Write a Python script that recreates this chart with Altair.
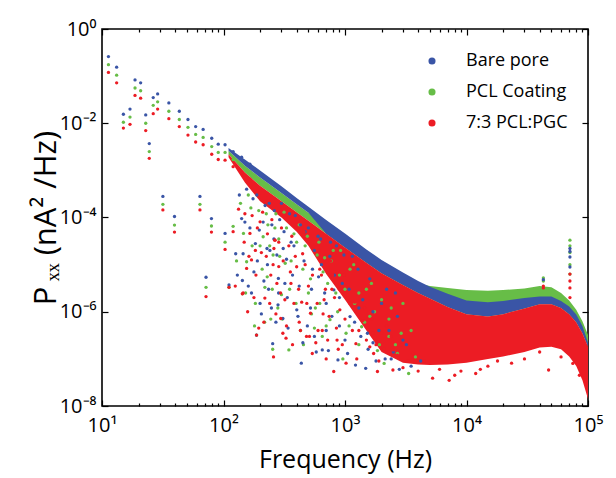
import altair as alt
import pandas as pd

# ---------------- data ----------------
series_names = ["Bare pore", "PCL Coating", "7:3 PCL:PGC"]
series_colors = ["#3a55a6", "#67bd47", "#ec1c24"]

x_tick_values = [10, 100, 1000, 10000, 100000]
x_tick_labels = ["10\u00b9", "10\u00b2", "10\u00b3", "10\u2074", "10\u2075"]
x_minor_values = [20, 30, 40, 50, 60, 70, 80, 90,
                  200, 300, 400, 500, 600, 700, 800, 900,
                  2000, 3000, 4000, 5000, 6000, 7000, 8000, 9000,
                  20000, 30000, 40000, 50000, 60000, 70000, 80000, 90000]
y_tick_values = [1, 0.01, 1e-4, 1e-6, 1e-8]
y_tick_labels = ["10\u2070", "10\u207b\u00b2", "10\u207b\u2074", "10\u207b\u2076", "10\u207b\u2078"]

# dense part of each spectrum (upper / lower edge of the solid cloud)
band_freq = [110, 150, 200, 300, 400, 500, 700, 1000, 1500, 2000, 3000, 4000, 5000, 7000,
             10000, 15000, 20000, 30000, 40000, 50000, 60000, 70000, 80000, 90000, 100000]
blue_top = [3.0e-3, 1.7e-3, 1.0e-3, 4.6e-4, 2.6e-4, 1.7e-4, 8.9e-5, 4.6e-5, 2.1e-5, 1.26e-5, 6.8e-6, 4.5e-6,
            3.4e-6, 2.4e-6, 1.74e-6, 1.6e-6, 1.7e-6, 1.95e-6, 2.1e-6, 2.1e-6, 1.7e-6, 1.3e-6, 8.7e-7, 5.0e-7,
            2.2e-7]
blue_bottom = [2.6e-3, 1.25e-3, 7.1e-4, 3.3e-4, 1.9e-4, 1.26e-4, 4.5e-5, 2.3e-5, 1.1e-5, 6.6e-6, 3.7e-6, 2.5e-6,
               1.9e-6, 1.26e-6, 8.9e-7, 7.9e-7, 8.9e-7, 1.17e-6, 1.45e-6, 1.45e-6, 1.2e-6, 8.9e-7, 6.0e-7,
               3.5e-7, 1.8e-7]
green_top = [2.6e-3, 1.25e-3, 7.1e-4, 3.3e-4, 1.9e-4, 1.26e-4, 6.6e-5, 3.4e-5, 1.58e-5, 9.5e-6, 5.2e-6, 4.0e-6,
             3.5e-6, 3.2e-6, 2.9e-6, 2.8e-6, 2.9e-6, 3.1e-6, 3.5e-6, 3.3e-6, 2.5e-6, 1.74e-6, 1.1e-6, 6.3e-7,
             3.2e-7]
red_top = [2.2e-3, 9.0e-4, 4.7e-4, 2.2e-4, 1.3e-4, 8.5e-5, 4.5e-5, 2.3e-5, 1.1e-5, 6.6e-6, 3.7e-6, 2.5e-6,
           1.9e-6, 1.26e-6, 8.9e-7, 7.9e-7, 8.9e-7, 1.17e-6, 1.45e-6, 1.45e-6, 1.2e-6, 8.9e-7, 6.0e-7, 3.5e-7,
           1.8e-7]
red_bottom = [1.9e-3, 5.5e-4, 2.2e-4, 1.0e-4, 5.0e-5, 2.5e-5, 6.3e-6, 1.8e-6, 4.0e-7, 1.4e-7, 8.3e-8, 7.6e-8,
              7.4e-8, 7.6e-8, 8.3e-8, 1.0e-7, 1.12e-7, 1.4e-7, 1.74e-7, 1.8e-7, 1.6e-7, 1.12e-7, 7.1e-8, 3.5e-8,
              1.4e-8]

# individual (sparse) periodogram points
blue_freq = [11.3, 13.2, 15.0, 17.0, 18.7, 20.8, 22.9, 24.5, 26.4, 28.7, 31.7, 35.5, 39.5, 43.3, 51, 59, 64, 68,
             71.8, 79.6, 80, 90.5, 103, 103, 111, 120, 126, 141, 141, 143, 145, 165, 183, 187, 197, 241, 254,
             283, 284, 308, 320, 281, 401, 437, 606, 650, 810, 875, 1100, 1220, 1480, 1530, 2140,
             360, 450, 520, 560, 700, 750, 900, 1000, 1300, 1700, 2500, 2800, 3500, 230, 260, 330, 170, 215,
             130, 135, 150, 160, 175, 190, 205, 220, 235, 250, 270, 290, 310, 340, 370, 390, 420, 470, 490,
             540, 580, 630, 680, 730, 780, 850, 950, 1050, 1150, 1350, 1600, 1800, 2000, 2300, 2600, 3200, 4200,
             155, 165, 178, 188, 200, 212, 228, 238, 248, 262, 275, 300, 315, 335, 350, 380, 410, 430, 460,
             500, 530, 560, 600, 640, 700, 760, 820, 900, 980, 1080, 1200, 1280, 1400, 1550, 1700, 1900,
             2200, 2400, 2700, 3000,
             71000, 71000, 71000, 71000, 42900]
blue_val = [2.6e-1, 1.55e-1, 1.55e-2, 2.0e-2, 8.3e-2, 7.2e-2, 1.5e-2, 3.7e-3, 3.5e-2, 4.2e-2, 2.8e-4, 2.7e-2,
            1.05e-4, 1.8e-2, 1.2e-2, 8.5e-3, 2.8e-4, 7.4e-3, 5.4e-6, 9.5e-5, 4.8e-3, 3.6e-3, 3.5e-3, 4.6e-5,
            3.7e-6, 2.5e-3, 1.7e-5, 1.9e-3, 9.5e-5, 4.6e-6, 1.7e-5, 1.35e-3, 2.8e-5, 3.2e-7, 5.4e-5, 2.0e-5,
            2.1e-7, 5.1e-6, 2.5e-6, 7.2e-7, 4.0e-6, 1.4e-6, 1.1e-6, 8.1e-8, 5.5e-6, 1.55e-7, 2.9e-6, 9.5e-8,
            7.9e-7, 7.4e-8, 6.3e-8, 3.5e-7, 1.0e-7,
            3.0e-5, 2.2e-7, 1.2e-6, 2.0e-5, 4.0e-7, 1.5e-5, 2.0e-6, 2.5e-7, 1.2e-6, 2.2e-7, 1.4e-7, 6.0e-8,
            7.0e-8, 1.0e-5, 3.5e-5, 1.3e-5, 2.5e-6, 4.5e-6,
            6.0e-6, 3.0e-4, 8.0e-5, 3.5e-6, 2.5e-4, 1.2e-5, 9.0e-7, 1.8e-4, 3.0e-6, 7.0e-5, 6.0e-7, 9.0e-5,
            2.2e-5, 4.5e-7, 6.0e-6, 1.1e-4, 3.5e-6, 5.0e-5, 5.0e-7, 8.0e-6, 1.4e-7, 3.5e-5, 2.5e-6, 1.5e-7,
            8.0e-7, 2.5e-5, 4.0e-6, 1.3e-7, 1.5e-5, 3.0e-7, 5.0e-6, 9.0e-8, 1.5e-6, 4.0e-7, 2.5e-6, 2.0e-7,
            9.0e-8,
            4.0e-4, 6.0e-5, 7.0e-6, 3.0e-4, 1.5e-6, 8.0e-5, 2.2e-5, 2.0e-4, 1.2e-6, 1.4e-4, 1.6e-5, 2.0e-4,
            5.0e-5, 2.0e-6, 1.2e-4, 2.5e-5, 8.0e-7, 7.0e-5, 1.2e-5, 6.0e-5, 3.0e-6, 3.0e-7, 4.0e-5, 1.0e-5,
            1.5e-6, 3.0e-5, 6.0e-6, 5.0e-7, 1.6e-5, 3.0e-6, 6.0e-7, 8.0e-6, 1.8e-6, 1.6e-7, 1.0e-6, 4.0e-7,
            3.0e-6, 1.0e-7, 8.0e-7, 2.5e-7,
            2.2e-5, 1.9e-5, 1.45e-5, 8.9e-6, 4.8e-6]

green_freq = [11.3, 13.2, 15.0, 17.0, 18.7, 20.8, 22.9, 24.5, 26.4, 28.7, 31.7, 35.5, 39.5, 43.3, 51, 59, 64, 68,
              71.8, 79.6, 80, 90.5, 103, 103, 111, 120, 120, 141, 143, 146, 155, 165, 187, 212, 219, 229, 254,
              256, 300, 322, 345, 500, 560, 752, 1020, 1370, 1920, 3340,
              400, 450, 620, 680, 900, 1200, 1600, 2300, 2700, 280, 240,
              128, 138, 152, 168, 180, 200, 225, 245, 265, 290, 315, 350, 380, 430, 470, 530, 590, 650, 720,
              800, 870, 960, 1100, 1300, 1500, 1750, 2100, 2400, 2900, 3800,
              160, 172, 183, 195, 208, 218, 232, 252, 270, 285, 305, 330, 360, 395, 420, 455, 490, 520, 570,
              610, 660, 700, 770, 840, 920, 1000, 1080, 1180, 1300, 1450, 1650, 1850, 2000, 2300, 2600, 3000,
              3500,
              71000, 71000, 71000, 71000, 71000, 42900, 42900]
green_val = [1.75e-1, 1.05e-1, 1.05e-2, 1.35e-2, 5.6e-2, 4.9e-2, 1.0e-2, 2.5e-3, 2.4e-2, 2.85e-2, 1.9e-4, 1.8e-2,
             6.9e-5, 1.2e-2, 8.2e-3, 5.8e-3, 1.9e-4, 5.0e-3, 3.3e-6, 6.6e-5, 3.2e-3, 2.4e-3, 2.4e-3, 3.0e-5,
             3.3e-6, 1.7e-3, 6.5e-5, 1.3e-3, 2.4e-6, 4.6e-5, 1.15e-5, 9.2e-4, 3.2e-7, 3.9e-5, 3.3e-6, 5.5e-6,
             1.6e-7, 1.6e-5, 2.3e-6, 1.07e-5, 1.55e-7, 2.5e-6, 4.5e-7, 6.8e-7, 3.5e-7, 4.8e-7, 2.0e-7, 4.9e-8,
             3.0e-5, 8.0e-6, 1.5e-6, 1.4e-5, 6.0e-6, 1.5e-6, 8.0e-7, 3.0e-7, 1.3e-7, 1.2e-6, 2.5e-5,
             1.2e-5, 2.0e-4, 2.5e-6, 1.6e-4, 5.0e-7, 2.5e-5, 1.2e-4, 7.0e-7, 6.0e-5, 1.5e-5, 1.3e-4, 3.0e-6,
             4.5e-5, 4.0e-7, 2.5e-5, 9.0e-7, 1.6e-5, 3.0e-7, 4.0e-6, 2.0e-5, 1.0e-6, 1.0e-7, 8.0e-6, 2.0e-7,
             3.0e-6, 1.0e-6, 8.0e-8, 1.2e-6, 3.5e-7, 1.1e-7,
             3.0e-4, 2.5e-5, 1.5e-6, 1.4e-4, 8.0e-6, 6.0e-7, 7.0e-5, 3.0e-6, 1.2e-4, 3.5e-5, 7.0e-7, 6.0e-5,
             1.2e-5, 1.5e-6, 7.0e-5, 2.0e-7, 4.0e-5, 5.0e-6, 1.2e-6, 3.0e-5, 7.0e-6, 5.0e-7, 1.2e-5, 2.5e-6,
             2.0e-5, 3.0e-6, 5.0e-7, 1.0e-5, 2.5e-6, 6.0e-7, 4.0e-6, 1.5e-7, 1.8e-6, 7.0e-7, 2.0e-7, 1.5e-6,
             4.0e-7,
             3.3e-5, 2.5e-5, 1.8e-5, 1.0e-5, 6.3e-6, 5.2e-6, 4.5e-6]

red_freq = [11.3, 13.2, 15.0, 17.0, 18.7, 20.8, 22.9, 24.5, 26.4, 28.7, 31.7, 35.5, 39.5, 43.3, 51, 59, 64, 68,
            71.8, 79.6, 80, 90.5, 103, 103, 111, 120, 120, 141, 143, 145, 155, 165, 165, 170, 183, 187, 200,
            219, 256, 258, 264, 266, 285, 296, 308, 327, 359, 448, 482, 520, 538, 673, 808, 907, 1020, 1230,
            1720, 1850, 2480, 2500, 5260, 7200, 11900, 23500, 47400,
            380, 420, 600, 640, 720, 780, 850, 950, 1100, 1400, 1600, 2000, 3000, 4000, 6000, 9000, 15000,
            30000, 60000, 85000,
            125, 133, 148, 158, 172, 185, 195, 210, 225, 240, 250, 275, 300, 320, 345, 370, 400, 440, 460,
            500, 550, 575, 620, 660, 700, 760, 820, 880, 980, 1150, 1250, 1450, 1700, 1900, 2200, 2700, 3300,
            150, 162, 178, 190, 205, 215, 230, 245, 260, 270, 285, 295, 310, 330, 355, 365, 390, 415, 430,
            470, 485, 510, 540, 590, 610, 650, 690, 740, 790, 860, 900, 1000, 1050, 1200, 1300, 1500, 1650,
            1800, 2100, 2400, 2900, 3600, 4500, 8000, 13000, 18000, 40000, 75000,
            71000, 71000, 71000, 71000, 42900, 42900]
red_val = [1.2e-1, 7.2e-2, 7.9e-3, 9.5e-3, 3.9e-2, 3.4e-2, 7.0e-3, 1.8e-3, 1.6e-2, 2.0e-2, 1.45e-4, 1.25e-2,
           4.9e-5, 8.5e-3, 5.6e-3, 4.0e-3, 1.45e-4, 3.5e-3, 2.1e-6, 4.9e-5, 2.2e-3, 1.7e-3, 1.65e-3, 2.1e-5,
           3.3e-6, 5.0e-5, 1.2e-3, 9.0e-4, 2.4e-6, 2.5e-6, 8.3e-6, 4.6e-5, 6.5e-4, 1.26e-5, 2.0e-5, 3.2e-7,
           8.1e-5, 1.95e-6, 1.0e-5, 1.1e-7, 3.3e-5, 3.3e-5, 9.1e-6, 7.2e-7, 3.5e-7, 2.75e-7, 4.0e-6, 1.7e-5,
           3.0e-7, 9.3e-7, 1.3e-7, 1.8e-6, 5.4e-8, 1.1e-6, 8.1e-8, 2.1e-7, 1.3e-7, 5.4e-8, 5.8e-8, 1.55e-7,
           3.9e-8, 3.5e-8, 4.9e-8, 8.1e-8, 5.8e-8,
           1.5e-6, 6.0e-7, 4.0e-7, 6.0e-6, 2.5e-7, 3.0e-6, 4.5e-7, 2.0e-7, 1.5e-6, 6.5e-7, 1.8e-7, 3.5e-7,
           6.5e-8, 5.5e-8, 6.0e-8, 5.5e-8, 7.0e-8, 1.0e-7, 1.1e-7, 4.5e-8,
           3.5e-6, 1.5e-4, 3.0e-5, 1.0e-6, 1.1e-4, 6.0e-6, 4.5e-7, 1.3e-4, 1.5e-5, 1.5e-6, 9.0e-5, 4.0e-6,
           6.0e-5, 1.8e-6, 2.5e-5, 2.0e-7, 9.0e-6, 1.6e-6, 5.0e-5, 3.5e-6, 2.5e-5, 2.2e-7, 8.0e-6, 9.0e-7,
           1.0e-7, 1.2e-5, 2.0e-6, 1.6e-7, 6.0e-6, 4.0e-7, 1.0e-7, 1.2e-6, 3.5e-7, 9.0e-8, 5.0e-7, 1.2e-7,
           9.0e-8,
           1.2e-4, 1.5e-5, 2.0e-6, 6.0e-5, 1.8e-5, 6.0e-7, 4.5e-5, 6.0e-6, 2.2e-5, 9.0e-7, 3.0e-5, 2.5e-6,
           1.2e-5, 5.0e-7, 7.0e-6, 4.0e-5, 1.5e-5, 3.0e-6, 4.0e-7, 1.0e-5, 1.5e-6, 3.0e-7, 6.0e-6, 1.5e-6,
           2.0e-5, 4.0e-7, 3.0e-6, 8.0e-7, 6.0e-6, 2.5e-7, 3.0e-6, 7.0e-7, 2.0e-6, 1.6e-6, 4.0e-7, 2.5e-7,
           7.0e-7, 2.0e-7, 1.6e-7, 3.0e-7, 2.0e-7, 1.3e-7, 9.0e-8, 4.5e-8, 6.0e-8, 9.0e-8, 1.4e-7, 8.0e-8,
           6.3e-6, 4.5e-6, 3.2e-6, 2.0e-6, 3.5e-6, 3.2e-6]

# ---------------- tables ----------------
green_band = pd.DataFrame({"freq": band_freq, "top": green_top, "bottom": red_top})
blue_band = pd.DataFrame({"freq": band_freq, "top": blue_top, "bottom": blue_bottom})
red_band = pd.DataFrame({"freq": band_freq, "top": red_top, "bottom": red_bottom})

points = pd.concat([
    pd.DataFrame({"freq": green_freq, "val": green_val, "series": series_names[1]}),
    pd.DataFrame({"freq": blue_freq, "val": blue_val, "series": series_names[0]}),
    pd.DataFrame({"freq": red_freq, "val": red_val, "series": series_names[2]}),
], ignore_index=True)

FONT = "Open Sans"
xs = alt.Scale(type="log", domain=[10, 100000], nice=False)
ys = alt.Scale(type="log", domain=[1e-8, 1], nice=False)


def js_list(items, quote=False):
    if quote:
        return "[" + ",".join("'" + s + "'" for s in items) + "]"
    return "[" + ",".join(repr(v) for v in items) + "]"


x_label_expr = js_list(x_tick_labels, True) + "[indexof(" + js_list(x_tick_values) + ", datum.value)]"
y_label_expr = js_list(y_tick_labels, True) + "[indexof(" + js_list(y_tick_values) + ", datum.value)]"

common = dict(domain=False, grid=False, tickColor="black", tickWidth=1.2)

x_main = alt.Axis(orient="bottom", values=x_tick_values, labelExpr=x_label_expr, tickSize=6, offset=-6,
                  labelFontSize=20, labelFont=FONT, labelColor="black", labelPadding=9, labelFlush=False,
                  title="Frequency (Hz)", titleFont=FONT, titleFontSize=25, titleFontWeight="normal",
                  titleColor="black", titlePadding=12, **common)
x_minor_b = alt.Axis(orient="bottom", values=x_minor_values, labels=False, tickSize=3, offset=-3, title=None,
                     **common)
x_major_t = alt.Axis(orient="top", values=x_tick_values, labels=False, tickSize=6, offset=-6, title=None, **common)
x_minor_t = alt.Axis(orient="top", values=x_minor_values, labels=False, tickSize=3, offset=-3, title=None,
                     **common)
y_main = alt.Axis(orient="left", values=y_tick_values, labelExpr=y_label_expr, tickSize=6, offset=-6,
                  labelFontSize=20, labelFont=FONT, labelColor="black", labelPadding=6, labelFlush=False,
                  title="P\u2009\u2093\u2093  (nA\u00b2 /Hz)", titleFont=FONT, titleFontSize=31,
                  titleFontWeight="normal", titleColor="black", titlePadding=-3, **common)
y_right = alt.Axis(orient="right", values=y_tick_values, labels=False, tickSize=6, offset=-6, title=None, **common)

green_area = alt.Chart(green_band).mark_area(color=series_colors[1], clip=True).encode(
    x=alt.X("freq:Q", scale=xs, axis=x_minor_b),
    y=alt.Y("top:Q", scale=ys, axis=y_right),
    y2="bottom:Q",
)
blue_area = alt.Chart(blue_band).mark_area(color=series_colors[0], clip=True).encode(
    x=alt.X("freq:Q", scale=xs, axis=x_major_t),
    y=alt.Y("top:Q", scale=ys, axis=None),
    y2="bottom:Q",
)
red_area = alt.Chart(red_band).mark_area(color=series_colors[2], clip=True).encode(
    x=alt.X("freq:Q", scale=xs, axis=x_minor_t),
    y=alt.Y("top:Q", scale=ys, axis=None),
    y2="bottom:Q",
)
dots = alt.Chart(points).mark_point(filled=True, size=11, opacity=1, clip=True).encode(
    x=alt.X("freq:Q", scale=xs, axis=x_main),
    y=alt.Y("val:Q", scale=ys, axis=y_main),
    color=alt.Color("series:N", scale=alt.Scale(domain=series_names, range=series_colors),
                    legend=alt.Legend(orient="none", legendX=321, legendY=23, title=None, padding=0,
                                      labelFont=FONT, labelFontSize=18, labelColor="black",
                                      symbolType="circle", symbolSize=50, labelOffset=25, rowPadding=13,
                                      symbolStrokeWidth=0)),
    order=alt.Order("idx:Q"),
).transform_window(idx="row_number()")

chart = alt.layer(green_area, blue_area, red_area, dots).resolve_axis(
    x="independent", y="independent"
).properties(
    width=486, height=377,
    padding={"left": 102, "top": 29, "right": 28, "bottom": 72},
    autosize=alt.AutoSizeParams(type="none"),
    background="white",
).configure_view(stroke="black", strokeWidth=1.6)

chart.save("out.html", embed_options={"renderer": "svg", "actions": False})
